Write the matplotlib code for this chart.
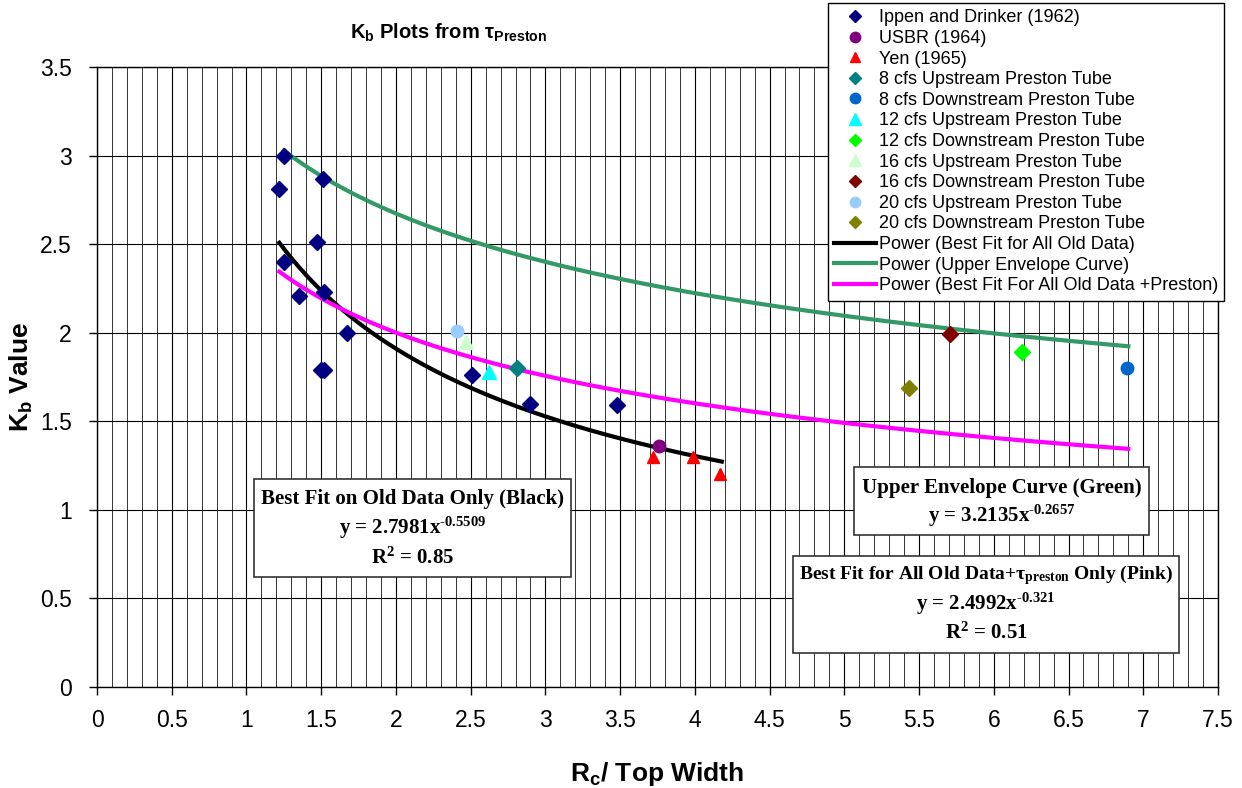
import numpy as np
import matplotlib
matplotlib.use("Agg")
import matplotlib.pyplot as plt
from matplotlib.lines import Line2D
from matplotlib.patches import Rectangle
from matplotlib.ticker import MultipleLocator, FuncFormatter

plt.rcParams["font.family"] = ["Liberation Sans", "DejaVu Sans"]
plt.rcParams["mathtext.default"] = "regular"

# --- data ---
ippen_x = [1.25, 1.22, 1.51, 1.47, 1.25, 1.35, 1.52, 1.67, 1.50, 1.52, 2.51, 2.90, 3.48]
ippen_y = [3.00, 2.81, 2.87, 2.51, 2.40, 2.21, 2.23, 2.00, 1.79, 1.79, 1.76, 1.60, 1.59]
usbr_x = [3.76]
usbr_y = [1.36]
yen_x = [3.72, 3.99, 4.17]
yen_y = [1.30, 1.30, 1.20]
up8_x, up8_y = [2.81], [1.80]
down8_x, down8_y = [6.89], [1.80]
up12_x, up12_y = [2.62], [1.78]
down12_x, down12_y = [6.19], [1.89]
up16_x, up16_y = [2.47], [1.95]
down16_x, down16_y = [5.71], [1.99]
up20_x, up20_y = [2.41], [2.01]
down20_x, down20_y = [5.43], [1.69]

# power trendlines y = a * x^b, drawn over [x0, x1]
black_fit = (2.7981, -0.5509, 1.22, 4.18)
green_fit = (3.2135, -0.2657, 1.25, 6.90)
pink_fit = (2.4992, -0.321, 1.22, 6.90)

W, H = 1242, 788


def fx(px):
    return px / W


def fy(py):
    return 1 - py / H


fig = plt.figure(figsize=(W / 100, H / 100), dpi=100)
ax = fig.add_axes([fx(97), fy(687), fx(1218) - fx(97), fy(67) - fy(687)])

series = [
    ("Ippen and Drinker (1962)", ippen_x, ippen_y, "D", "#000080", 8),
    ("USBR (1964)", usbr_x, usbr_y, "o", "#800080", 9),
    ("Yen (1965)", yen_x, yen_y, "^", "#FF0000", 8),
    ("8 cfs Upstream Preston Tube", up8_x, up8_y, "D", "#008080", 8),
    ("8 cfs Downstream Preston Tube", down8_x, down8_y, "o", "#0066CC", 9),
    ("12 cfs Upstream Preston Tube", up12_x, up12_y, "^", "#00FFFF", 10),
    ("12 cfs Downstream Preston Tube", down12_x, down12_y, "D", "#00FF00", 8),
    ("16 cfs Upstream Preston Tube", up16_x, up16_y, "^", "#CCFFCC", 10),
    ("16 cfs Downstream Preston Tube", down16_x, down16_y, "D", "#800000", 8),
    ("20 cfs Upstream Preston Tube", up20_x, up20_y, "o", "#99CCFF", 9),
    ("20 cfs Downstream Preston Tube", down20_x, down20_y, "D", "#808000", 8),
]

fits = [
    ("Power (Best Fit for All Old Data)", black_fit, "#000000"),
    ("Power (Upper Envelope Curve)", green_fit, "#339966"),
    ("Power (Best Fit For All Old Data +Preston)", pink_fit, "#FF00FF"),
]

handles = []
for label, xs, ys, mk, col, ms in series:
    ax.plot(xs, ys, linestyle="None", marker=mk, color=col, ms=ms, mec=col, zorder=4)
    handles.append(Line2D([], [], linestyle="None", marker=mk, color=col, ms=ms - 1.5, mec=col, label=label))

for label, (a, b, x0, x1), col in fits:
    xx = np.linspace(x0, x1, 200)
    ax.plot(xx, a * xx ** b, color=col, lw=3, zorder=3)
    handles.append(Line2D([], [], color=col, lw=3, label=label))

ax.set_xlim(0, 7.5)
ax.set_ylim(0, 3.5)
ax.xaxis.set_major_locator(MultipleLocator(0.5))
ax.xaxis.set_minor_locator(MultipleLocator(0.1))
ax.yaxis.set_major_locator(MultipleLocator(0.5))
fmt = FuncFormatter(lambda v, p: f"{v:g}")
ax.xaxis.set_major_formatter(fmt)
ax.yaxis.set_major_formatter(fmt)
ax.grid(True, which="major", axis="both", color="black", lw=0.8)
ax.grid(True, which="minor", axis="x", color="#333333", lw=0.7)
ax.set_axisbelow(True)
ax.tick_params(which="major", direction="out", length=6, width=1, labelsize=16.5)
ax.tick_params(axis="x", which="major", pad=10)
ax.tick_params(axis="y", which="major", pad=12)
ax.tick_params(which="minor", length=0)
for s in ax.spines.values():
    s.set_color("black")
    s.set_linewidth(1)

ax.set_xlabel("R$_c$/ Top Width", fontsize=19, fontweight="bold", labelpad=20)
ax.set_ylabel("K$_b$ Value", fontsize=19, fontweight="bold", labelpad=4)

fig.text(fx(449), fy(33), r"K$_b$ Plots from τ$_{Preston}$", fontsize=14.5,
         fontweight="bold", ha="center", va="center")

leg = fig.legend(handles=handles, loc="upper left", bbox_to_anchor=(fx(828), fy(3)),
                 fontsize=13, frameon=True, fancybox=False, framealpha=1,
                 edgecolor="black", labelspacing=0.2, handlelength=2.3,
                 handletextpad=0.15, borderpad=0.35, borderaxespad=0)
leg.get_frame().set_linewidth(1)

# equation boxes: (box pixels), [(line centre y, text, size)]
serif = ["Liberation Serif", "DejaVu Serif"]
boxes = [
    ((254, 479, 571, 577), [
        (499, "Best Fit on Old Data Only (Black)", 15),
        (528, "y = 2.7981x$^{\u20100.5509}$", 15),
        (558, "R$^2$ = 0.85", 15),
    ]),
    ((854, 467, 1149, 535), [
        (488, "Upper Envelope Curve (Green)", 15),
        (516, "y = 3.2135x$^{\u20100.2657}$", 15),
    ]),
    ((793, 556, 1179, 653), [
        (575, "Best Fit for All Old Data+τ$_{preston}$ Only (Pink)", 14),
        (604, "y = 2.4992x$^{\u20100.321}$", 15),
        (633, "R$^2$ = 0.51", 15),
    ]),
]
for (x0, y0, x1, y1), lines in boxes:
    fig.add_artist(Rectangle((fx(x0), fy(y1)), fx(x1) - fx(x0), fy(y0) - fy(y1),
                             transform=fig.transFigure, facecolor="white",
                             edgecolor="#333333", lw=1.2, zorder=5))
    for py, txt, size in lines:
        fig.text(fx((x0 + x1) / 2), fy(py), txt, family=serif, fontsize=size,
                 fontweight="bold", ha="center", va="center", zorder=6)

fig.savefig("out.png", dpi=100)
